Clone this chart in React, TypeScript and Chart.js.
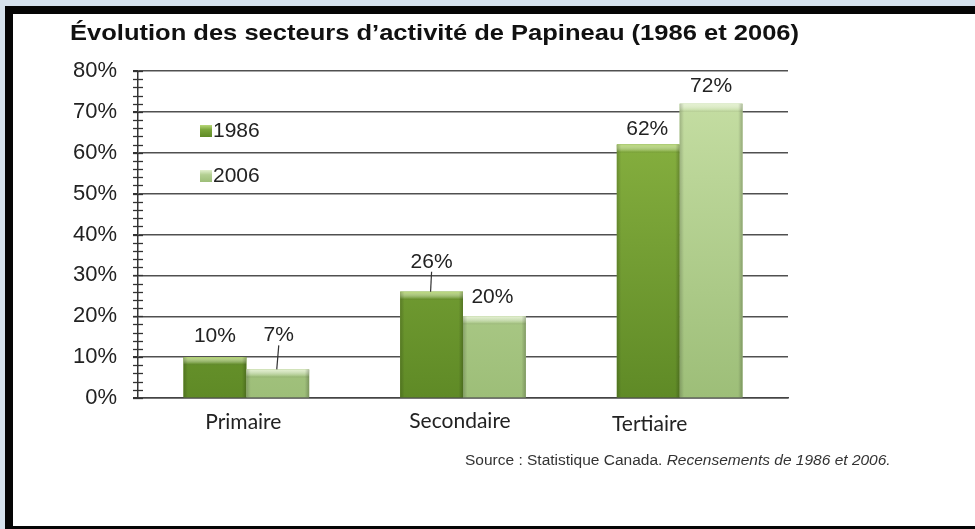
import React, { useEffect, useRef } from "react";
import { Chart, registerables } from "chart.js";

Chart.register(...registerables);

// ---- Data ----
const categories = ["Primaire", "Secondaire", "Tertiaire"];
const seriesNames = ["1986", "2006"];
const values1986 = [10, 26, 62];
const values2006 = [7, 20, 72];
const yTickValues = [0, 10, 20, 30, 40, 50, 60, 70, 80];
const titleText = "Évolution des secteurs d’activité de Papineau (1986 et 2006)";
const sourcePlain = "Source : Statistique Canada. ";
const sourceItalic = "Recensements de 1986 et 2006.";

// ---- Styles ----
const W = 975;
const H = 529;
const ARIAL = "'Liberation Sans', Arial, sans-serif";
const CALIBRI = "Lato, 'Open Sans', sans-serif";
const palette = [
  { top: "#8fb845", bottom: "#5f8a26", bevel: "#b9d87a", legend: "#7aa53a" },
  { top: "#c8e0a6", bottom: "#9dbe78", bevel: "#e3f0cf", legend: "#b3cf92" },
];
// label placement tweaks [dataset][category]
const labelPlacement = [
  [{ dx: 0, dy: -21, leader: false }, { dx: 0, dy: -30, leader: true }, { dx: -1, dy: -15, leader: false }],
  [{ dx: 1, dy: -34, leader: true }, { dx: -2, dy: -19, leader: false }, { dx: 0, dy: -17, leader: false }],
];
// category label placement tweaks
const catLabelShift = [{ dx: -3, dy: 0 }, { dx: -3, dy: -1 }, { dx: -30, dy: 2 }];

const decorPlugin = {
  id: "decor",
  afterDatasetsDraw(chart: any) {
    const ctx = chart.ctx;
    const area = chart.chartArea;
    const yScale = chart.scales.y;
    const xScale = chart.scales.x;
    ctx.save();
    // bar shading
    chart.data.datasets.forEach((ds: any, di: number) => {
      const meta = chart.getDatasetMeta(di);
      const col = palette[di];
      meta.data.forEach((bar: any) => {
        const w = bar.width;
        const left = bar.x - w / 2;
        const top = bar.y;
        const h = bar.base - bar.y;
        const g = ctx.createLinearGradient(0, area.top, 0, area.bottom);
        g.addColorStop(0, col.top);
        g.addColorStop(1, col.bottom);
        ctx.fillStyle = g;
        ctx.fillRect(left, top, w, h);
        // top bevel
        const bh = Math.min(8, h);
        const bg = ctx.createLinearGradient(0, top, 0, top + bh);
        bg.addColorStop(0, col.bevel);
        bg.addColorStop(0.8, "rgba(255,255,255,0.1)");
        bg.addColorStop(1, "rgba(0,0,0,0.08)");
        ctx.fillStyle = bg;
        ctx.fillRect(left, top, w, bh);
        // side shading
        const sg = ctx.createLinearGradient(left, 0, left + w, 0);
        sg.addColorStop(0, "rgba(0,0,0,0.18)");
        sg.addColorStop(0.07, "rgba(0,0,0,0)");
        sg.addColorStop(0.93, "rgba(0,0,0,0)");
        sg.addColorStop(1, "rgba(0,0,0,0.22)");
        ctx.fillStyle = sg;
        ctx.fillRect(left, top, w, h);
      });
    });

    // minor ticks on the y axis (every 2%)
    ctx.strokeStyle = "#333";
    ctx.lineWidth = 1.3;
    const ax = area.left;
    for (let v = 0; v <= 80; v += 2) {
      const y = Math.round(yScale.getPixelForValue(v)) + 0.5;
      ctx.beginPath();
      ctx.moveTo(ax - 5, y);
      ctx.lineTo(ax + 5, y);
      ctx.stroke();
    }

    // data labels
    ctx.font = `21px ${ARIAL}`;
    ctx.fillStyle = "#222";
    ctx.textAlign = "center";
    ctx.textBaseline = "middle";
    chart.data.datasets.forEach((ds: any, di: number) => {
      const meta = chart.getDatasetMeta(di);
      meta.data.forEach((bar: any, i: number) => {
        const p = labelPlacement[di][i];
        const cx = bar.x + p.dx;
        const cy = bar.y + p.dy;
        ctx.fillText(`${ds.data[i]}%`, cx, cy);
        if (p.leader) {
          ctx.strokeStyle = "#333";
          ctx.lineWidth = 1.2;
          ctx.beginPath();
          ctx.moveTo(cx, cy + 10);
          ctx.lineTo(bar.x - 1, bar.y);
          ctx.stroke();
        }
      });
    });

    // category labels (drawn from the x scale positions)
    ctx.font = `21px ${CALIBRI}`;
    ctx.fillStyle = "#222";
    ctx.textAlign = "center";
    categories.forEach((c, i) => {
      const s = catLabelShift[i];
      ctx.fillText(c, xScale.getPixelForValue(i) + s.dx, area.bottom + 24 + s.dy);
    });

    // legend inside the plot
    const lx = area.left + 62;
    const rows = [area.top + 60, area.top + 105];
    seriesNames.forEach((name, di) => {
      const y = rows[di];
      const col = palette[di];
      const g = ctx.createLinearGradient(0, y - 6, 0, y + 6);
      g.addColorStop(0, col.bevel);
      g.addColorStop(0.4, col.legend);
      g.addColorStop(1, col.bottom);
      ctx.fillStyle = g;
      ctx.fillRect(lx, y - 6, 12, 12);
      ctx.fillStyle = "#222";
      ctx.textAlign = "left";
      ctx.font = `21px ${ARIAL}`;
      ctx.fillText(name, lx + 13, y);
    });
    ctx.restore();
  },
};

export default function App() {
  const canvasRef = useRef<HTMLCanvasElement | null>(null);

  useEffect(() => {
    if (!canvasRef.current) return;
    const chart = new Chart(canvasRef.current, {
      type: "bar",
      data: {
        labels: categories,
        datasets: [
          { label: seriesNames[0], data: values1986, backgroundColor: palette[0].legend, barPercentage: 1, categoryPercentage: 0.58 },
          { label: seriesNames[1], data: values2006, backgroundColor: palette[1].legend, barPercentage: 1, categoryPercentage: 0.58 },
        ],
      },
      options: {
        responsive: false,
        animation: false,
        devicePixelRatio: 1,
        layout: { padding: { top: 71, right: 187, bottom: 71, left: 0 } },
        plugins: {
          legend: { display: false },
          tooltip: { enabled: false },
          title: { display: false },
        },
        scales: {
          x: {
            grid: { display: false, drawTicks: false },
            border: { display: true, color: "#444", width: 1.5 },
            ticks: { display: false },
            afterFit: (s: any) => { s.height = 60; },
          },
          y: {
            min: 0,
            max: 80,
            afterBuildTicks: (s: any) => { s.ticks = yTickValues.map((v) => ({ value: v })); },
            ticks: {
              font: { family: ARIAL, size: 22 },
              color: "#222",
              padding: 16,
              callback: (v: any) => `${v}%`,
            },
            grid: { color: "#505050", lineWidth: 1.5, tickLength: 5, tickColor: "#333", drawTicks: true },
            border: { display: true, color: "#333", width: 1.5 },
            afterFit: (s: any) => { s.width = 138; },
          },
        },
      },
      plugins: [decorPlugin],
    });
    return () => chart.destroy();
  }, []);

  return (
    <div style={{ position: "absolute", left: 0, top: 0, width: W, height: H, background: "#d6e2ed", overflow: "hidden" }}>
      <div style={{ position: "absolute", left: 5, top: 6, width: W - 5, height: H - 6, background: "#050505" }} />
      <div style={{ position: "absolute", left: 13, top: 14, width: W - 13, height: 512, background: "#ffffff" }} />
      <canvas ref={canvasRef} width={W} height={H} style={{ position: "absolute", left: 0, top: 0, width: W, height: H }} />
      <div
        style={{
          position: "absolute",
          left: 70,
          top: 20,
          fontFamily: ARIAL,
          fontWeight: "bold",
          fontSize: 22,
          color: "#111",
          whiteSpace: "nowrap",
          lineHeight: "26px",
          transform: "scaleX(1.16)",
          transformOrigin: "left center",
        }}
      >
        {titleText}
      </div>
      <div
        style={{
          position: "absolute",
          left: 465,
          top: 451,
          fontFamily: ARIAL,
          fontSize: 15.5,
          color: "#333",
          whiteSpace: "nowrap",
          lineHeight: "18px",
        }}
      >
        {sourcePlain}
        <i>{sourceItalic}</i>
      </div>
    </div>
  );
}
